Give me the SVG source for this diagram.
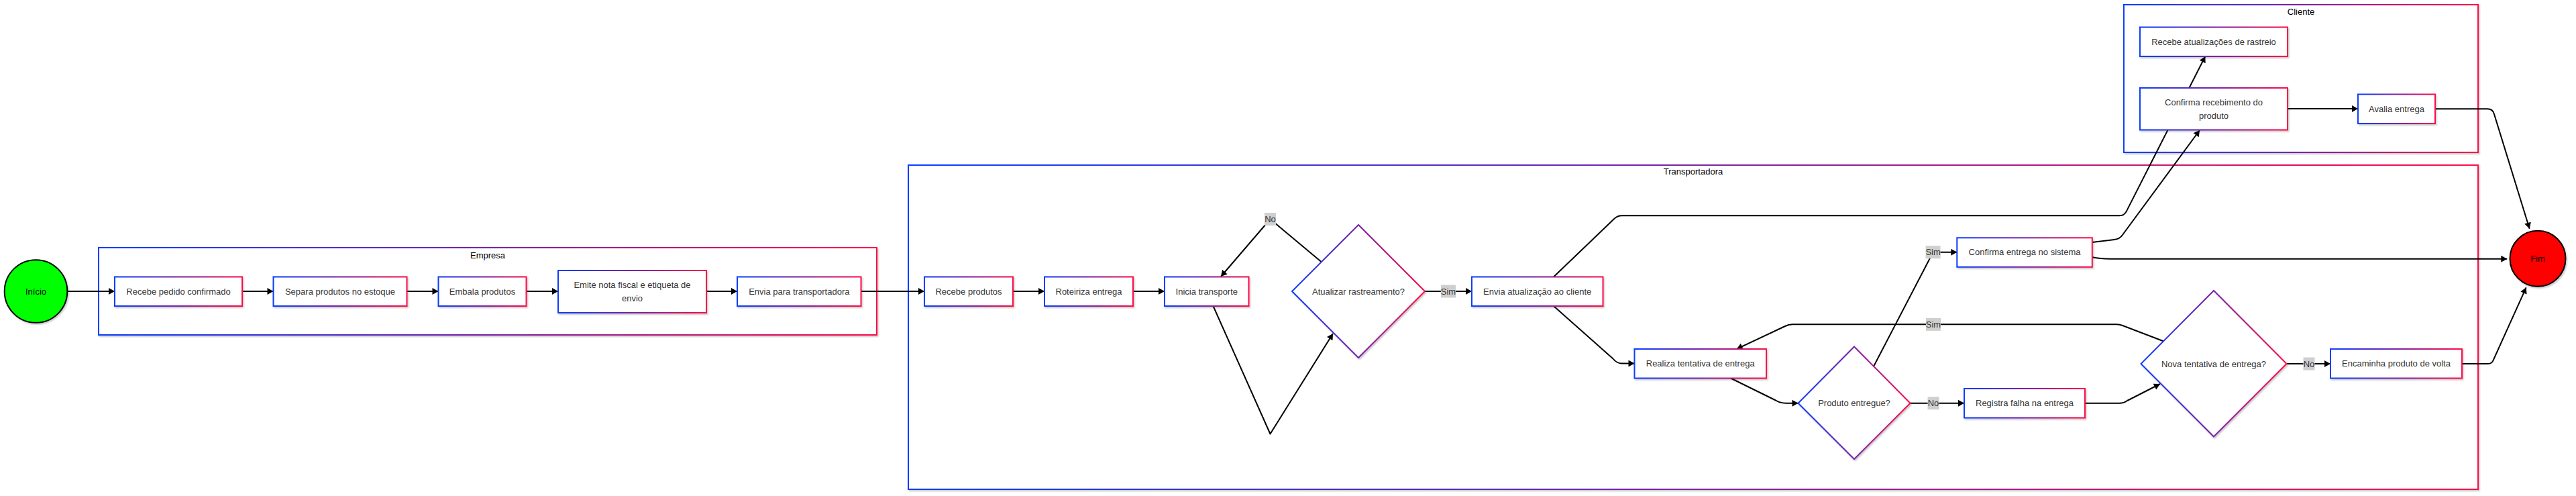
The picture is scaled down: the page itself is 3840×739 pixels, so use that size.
<svg xmlns="http://www.w3.org/2000/svg" width="3840" height="739" viewBox="0 0 3840 739">
<style>
.node{fill:#ffffff;stroke:url(#g);stroke-width:2;filter:url(#sh)}
.cont{fill:#ffffff;stroke:url(#g);stroke-width:2;filter:url(#sh)}
.t{font-family:"Liberation Sans",Arial,sans-serif;font-size:13px;fill:#333333;text-anchor:middle}
.ct{font-family:"Liberation Sans",Arial,sans-serif;font-size:13px;fill:#000000;text-anchor:middle}
.e{fill:none;stroke:#000000;stroke-width:2;stroke-linejoin:round}
.a{marker-end:url(#arr)}
.lb{fill:#cfcfcf}
.lt{font-family:"Liberation Sans",Arial,sans-serif;font-size:13px;fill:#333333;text-anchor:middle}
</style>
<defs>
<linearGradient id="g" x1="0" y1="0" x2="1" y2="0">
<stop offset="0" stop-color="#0a3dff"/>
<stop offset="0.5" stop-color="#7a22a8"/>
<stop offset="1" stop-color="#ff0a47"/>
</linearGradient>
<filter id="sh" x="-10%" y="-10%" width="120%" height="130%">
<feDropShadow dx="1.5" dy="2" stdDeviation="1.2" flood-color="#000000" flood-opacity="0.22"/>
</filter>
<marker id="arr" markerUnits="userSpaceOnUse" markerWidth="11" markerHeight="11" refX="9.5" refY="5.5" orient="auto">
<path d="M0.5,0.5 L9.5,5.5 L0.5,10.5 z" fill="#000000"/>
</marker>
</defs>
<rect width="3840" height="739" fill="#ffffff"/>

<g id="containers">
<g id="empresa">
<rect class="cont" x="147" y="369" width="1160" height="130"/>
<text class="ct" x="727" y="384.5">Empresa</text>
</g>
<g id="transportadora">
<rect class="cont" x="1354" y="246" width="2340" height="483"/>
<text class="ct" x="2524" y="260">Transportadora</text>
</g>
<g id="cliente">
<rect class="cont" x="3166" y="7" width="528" height="220"/>
<text class="ct" x="3430" y="21.5">Cliente</text>
</g>
</g>

<g id="connectors">
<path class="e a" d="M100.5,434 L171,434"/>
<path class="e a" d="M361,434 L407.5,434"/>
<path class="e a" d="M606.5,434 L653.5,434"/>
<path class="e a" d="M784.5,434 L832,434"/>
<path class="e a" d="M1053,434 L1099,434"/>
<path class="e a" d="M1283.5,434 L1378,434"/>
<path class="e a" d="M1510,434 L1557,434"/>
<path class="e a" d="M1689,434 L1736,434"/>
<path class="e a" d="M1808.5,456 L1893.5,646.5 L1987,497"/>
<path class="e a" d="M1969.5,390 L1893.5,326.5 L1820,412"/>
<path class="e a" d="M2124,434 L2194,434"/>
<path class="e a" d="M2316,412.5 L2406,326.2 Q2411,321.3 2418,321.3 L3159.5,321.3 Q3166.5,321.3 3169.7,315.1 L3287.3,84"/>
<path class="e a" d="M2316,456 L2404,534 Q2410,541.5 2418,541.5 L2436.5,541.5"/>
<path class="e a" d="M2580,563.5 L2647,596.5 Q2654,600.7 2662,600.7 L2680.5,600.7"/>
<path class="e a" d="M2793.5,545 L2881.6,375.7 L2917.3,375.7"/>
<path class="e a" d="M2847.5,600.7 L2928,600.7"/>
<path class="e a" d="M3108,600.7 L3159,600.7 Q3166,600.7 3171,597 L3220,572"/>
<path class="e a" d="M3224.8,508.3 L3164,485 Q3160,483.3 3155,483.3 L2672,483.3 Q2666,483.3 2661,486 L2588.8,520"/>
<path class="e a" d="M3408.2,542 L3474,542"/>
<path class="e a" d="M3670,542 L3709,542 Q3715,542 3717,536 L3765.7,428.3"/>
<path class="e a" d="M3119,361 L3152,357 Q3160,356 3164,350 L3279,194"/>
<path class="e a" d="M3119,383.3 Q3130,385.7 3146,385.7 L3737.3,385.7"/>
<path class="e a" d="M3410,162 L3515,162"/>
<path class="e a" d="M3630,162.3 L3708,162.3 Q3716,162.3 3718,170 L3770.7,340.7"/>
<g id="edge-labels">
<rect class="lb" x="1885" y="317" width="17" height="19"/>
<text class="lt" x="1893.5" y="331">No</text>
<rect class="lb" x="2148" y="424.5" width="22" height="19"/>
<text class="lt" x="2159" y="438.5">Sim</text>
<rect class="lb" x="2870.6" y="366.2" width="22" height="19"/>
<text class="lt" x="2881.6" y="380.2">Sim</text>
<rect class="lb" x="2873.5" y="591.2" width="17" height="19"/>
<text class="lt" x="2882" y="605.2">No</text>
<rect class="lb" x="2871" y="473.8" width="22" height="19"/>
<text class="lt" x="2882" y="487.8">Sim</text>
<rect class="lb" x="3433.5" y="532.5" width="17" height="19"/>
<text class="lt" x="3442" y="546.5">No</text>
</g>
</g>

<g id="inicio">
<circle cx="53.5" cy="434" r="46.8" fill="#00ff00" stroke="#000000" stroke-width="2" filter="url(#sh)"/>
<text class="ct" x="53.5" y="438.5">Início</text>
</g>
<g id="n-recebe-pedido">
<rect class="node" x="171" y="412.5" width="190" height="43.5"/>
<text class="t" x="266" y="438.5">Recebe pedido confirmado</text>
</g>
<g id="n-separa">
<rect class="node" x="407.5" y="412.5" width="199" height="43.5"/>
<text class="t" x="507" y="438.5">Separa produtos no estoque</text>
</g>
<g id="n-embala">
<rect class="node" x="653.5" y="412.5" width="131" height="43.5"/>
<text class="t" x="719" y="438.5">Embala produtos</text>
</g>
<g id="n-emite">
<rect class="node" x="832" y="403" width="221" height="63"/>
<text class="t" x="942.5" y="428.5">Emite nota fiscal e etiqueta de</text>
<text class="t" x="942.5" y="448.5">envio</text>
</g>
<g id="n-envia-transp">
<rect class="node" x="1099" y="412.5" width="184.5" height="43.5"/>
<text class="t" x="1191.3" y="438.5">Envia para transportadora</text>
</g>
<g id="n-recebe-produtos">
<rect class="node" x="1378" y="412.5" width="132" height="43.5"/>
<text class="t" x="1444" y="438.5">Recebe produtos</text>
</g>
<g id="n-roteiriza">
<rect class="node" x="1557" y="412.5" width="132" height="43.5"/>
<text class="t" x="1623" y="438.5">Roteiriza entrega</text>
</g>
<g id="n-inicia">
<rect class="node" x="1736" y="412.5" width="125.5" height="43.5"/>
<text class="t" x="1798.8" y="438.5">Inicia transporte</text>
</g>
<g id="d-atualizar">
<polygon class="node" points="2025,335 2124,434 2025,533 1926,434"/>
<text class="t" x="2025" y="438.5">Atualizar rastreamento?</text>
</g>
<g id="n-envia-atualizacao">
<rect class="node" x="2194" y="412.5" width="195.5" height="43.5"/>
<text class="t" x="2291.7" y="438.5">Envia atualização ao cliente</text>
</g>
<g id="n-realiza">
<rect class="node" x="2436.5" y="520" width="196.5" height="43.5"/>
<text class="t" x="2534.7" y="546">Realiza tentativa de entrega</text>
</g>
<g id="d-produto-entregue">
<polygon class="node" points="2764,516.5 2847.5,600.7 2764,684 2680.5,600.7"/>
<text class="t" x="2764" y="605.2">Produto entregue?</text>
</g>
<g id="n-confirma-entrega">
<rect class="node" x="2917.3" y="354.3" width="201.5" height="43.5"/>
<text class="t" x="3018" y="380.2">Confirma entrega no sistema</text>
</g>
<g id="n-registra">
<rect class="node" x="2928" y="579" width="180" height="43.5"/>
<text class="t" x="3018" y="605.2">Registra falha na entrega</text>
</g>
<g id="d-nova-tentativa">
<polygon class="node" points="3300,433 3408.5,542 3300,650.5 3191.5,542"/>
<text class="t" x="3300" y="546.5">Nova tentativa de entrega?</text>
</g>
<g id="n-encaminha">
<rect class="node" x="3474" y="520" width="196" height="43.5"/>
<text class="t" x="3572" y="546">Encaminha produto de volta</text>
</g>
<g id="n-recebe-atualizacoes">
<rect class="node" x="3190" y="40.5" width="220" height="43.5"/>
<text class="t" x="3300" y="66.5">Recebe atualizações de rastreio</text>
</g>
<g id="n-confirma-recebimento">
<rect class="node" x="3190" y="131" width="220" height="62.5"/>
<text class="t" x="3300" y="157">Confirma recebimento do</text>
<text class="t" x="3300" y="177">produto</text>
</g>
<g id="n-avalia">
<rect class="node" x="3515" y="140.5" width="115" height="43.5"/>
<text class="t" x="3572.5" y="166.5">Avalia entrega</text>
</g>
<g id="fim">
<circle cx="3783" cy="385.3" r="41.5" fill="#ff0000" stroke="#000000" stroke-width="2" filter="url(#sh)"/>
<text class="ct" x="3783" y="389.8">Fim</text>
</g>
</svg>
